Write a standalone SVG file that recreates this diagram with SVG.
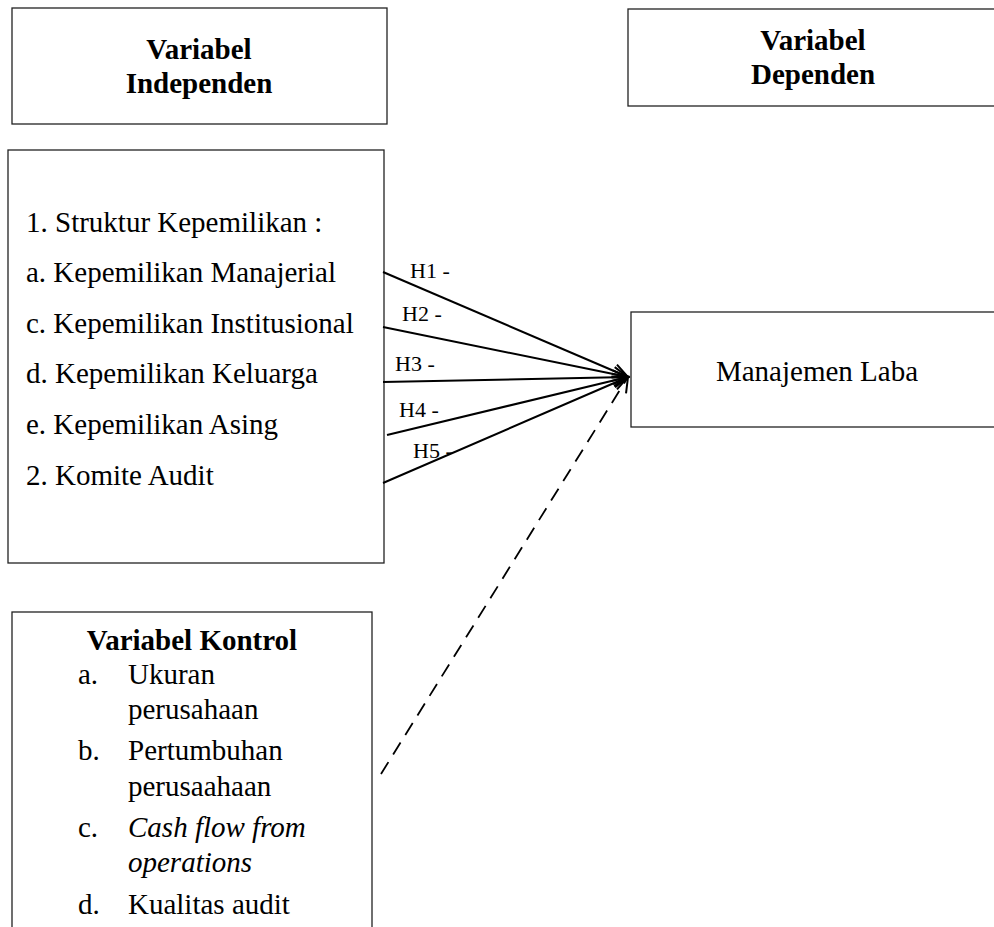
<svg xmlns="http://www.w3.org/2000/svg" width="994" height="927" viewBox="0 0 994 927">
<style>
.box{fill:#fff;stroke:#222;stroke-width:1.3}
.t{font-family:"Liberation Serif","Times New Roman",serif;font-size:29px;fill:#000}
.b{font-weight:bold;text-anchor:middle}
.h{font-family:"Liberation Serif","Times New Roman",serif;font-size:22px;fill:#000}
.ln{stroke:#000;stroke-width:2;fill:none}
.dash{stroke:#000;stroke-width:1.8;fill:none;stroke-dasharray:14 9}
</style>
<defs>
<marker id="arr" markerUnits="userSpaceOnUse" markerWidth="20" markerHeight="16" refX="16" refY="8" orient="auto">
<path d="M1,1 L16,8 L1,15" fill="none" stroke="#000" stroke-width="2"/>
</marker>
</defs>
<rect width="994" height="927" fill="#fff"/>
<g id="indep-header">
<rect class="box" x="12" y="8" width="375" height="116"/>
<text class="t b" x="199" y="59">Variabel</text>
<text class="t b" x="199" y="93">Independen</text>
</g>
<g id="dep-header">
<rect class="box" x="628" y="9" width="380" height="97"/>
<text class="t b" x="813" y="50">Variabel</text>
<text class="t b" x="813" y="84">Dependen</text>
</g>
<g id="indep">
<rect class="box" x="8" y="150" width="376" height="413"/>
<text class="t" x="26" y="232">1. Struktur Kepemilikan :</text>
<text class="t" x="26" y="282">a. Kepemilikan Manajerial</text>
<text class="t" x="26" y="333">c. Kepemilikan Institusional</text>
<text class="t" x="26" y="383">d. Kepemilikan Keluarga</text>
<text class="t" x="26" y="434">e. Kepemilikan Asing</text>
<text class="t" x="26" y="485">2. Komite Audit</text>
</g>
<g id="dependent">
<rect class="box" x="631" y="312" width="380" height="115"/>
<text class="t" x="817" y="381" text-anchor="middle">Manajemen Laba</text>
</g>
<g id="kontrol">
<rect class="box" x="12" y="612" width="360" height="330"/>
<text class="t b" x="192" y="650">Variabel Kontrol</text>
<text class="t" x="78" y="684">a.</text>
<text class="t" x="128" y="684">Ukuran</text>
<text class="t" x="128" y="719">perusahaan</text>
<text class="t" x="78" y="760">b.</text>
<text class="t" x="128" y="760">Pertumbuhan</text>
<text class="t" x="128" y="796">perusaahaan</text>
<text class="t" x="78" y="837">c.</text>
<text class="t" x="128" y="837" font-style="italic">Cash flow from</text>
<text class="t" x="128" y="872" font-style="italic">operations</text>
<text class="t" x="78" y="914">d.</text>
<text class="t" x="128" y="914">Kualitas audit</text>
</g>
<g id="connectors">
<line class="ln" x1="383" y1="272" x2="628" y2="377" marker-end="url(#arr)"/>
<line class="ln" x1="383" y1="327" x2="628" y2="377" marker-end="url(#arr)"/>
<line class="ln" x1="383" y1="382" x2="628" y2="377" marker-end="url(#arr)"/>
<line class="ln" x1="387" y1="435" x2="628" y2="377" marker-end="url(#arr)"/>
<line class="ln" x1="383" y1="483" x2="628" y2="377" marker-end="url(#arr)"/>
<line class="dash" x1="381" y1="774" x2="628" y2="377" marker-end="url(#arr)"/>
<text class="h" x="410" y="278">H1 -</text>
<text class="h" x="402" y="321">H2 -</text>
<text class="h" x="395" y="371">H3 -</text>
<text class="h" x="399" y="417">H4 -</text>
<text class="h" x="413" y="458">H5 -</text>
</g>
</svg>
